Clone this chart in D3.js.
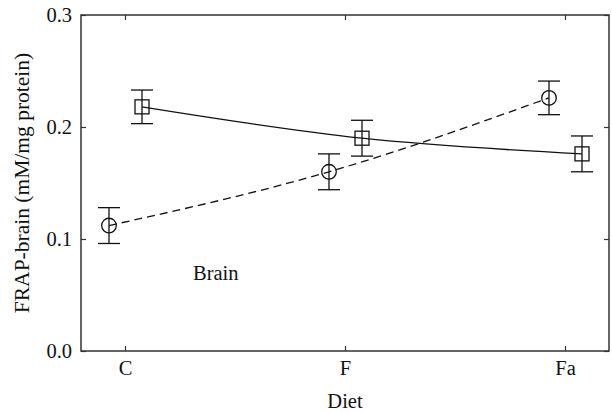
<!DOCTYPE html>
<html><head><meta charset="utf-8">
<script src="https://cdn.jsdelivr.net/npm/d3@7"></script>
<style>body{margin:0;background:#fff}svg{display:block}</style>
</head><body>
<svg id="chart" width="612" height="413"></svg>
<script>
const categories = ["C", "F", "Fa"];
const circleValues = [0.112, 0.160, 0.226];
const circleErrors = [0.016, 0.016, 0.015];
const squareValues = [0.218, 0.190, 0.176];
const squareErrors = [0.015, 0.016, 0.016];
const yTicks = [0.0, 0.1, 0.2, 0.3];
const yTickLabels = ["0.0", "0.1", "0.2", "0.3"];

const svg = d3.select("#chart");
const m = {left: 81, right: 609, top: 15, bottom: 351};
const font = "'Liberation Serif', 'Times New Roman', serif";
const fs = 20.5;

const x = d3.scalePoint().domain(categories).range([125, 565]);
const y = d3.scaleLinear().domain([0, 0.3]).range([m.bottom, m.top]);

// frame
svg.append("rect").attr("x", m.left).attr("y", m.top)
  .attr("width", m.right - m.left).attr("height", m.bottom - m.top)
  .attr("fill", "none").attr("stroke", "#333").attr("stroke-width", 1.5);

// axes with inward ticks
const axL = svg.append("g").attr("transform", `translate(${m.left},0)`)
  .call(d3.axisLeft(y).tickValues(yTicks).tickFormat((d, i) => yTickLabels[i]).tickSizeInner(-5).tickSizeOuter(0).tickPadding(9));
const axR = svg.append("g").attr("transform", `translate(${m.right},0)`)
  .call(d3.axisRight(y).tickValues(yTicks).tickFormat("").tickSizeInner(-5).tickSizeOuter(0));
const axB = svg.append("g").attr("transform", `translate(0,${m.bottom})`)
  .call(d3.axisBottom(x).tickSizeInner(-5).tickSizeOuter(0).tickPadding(9));
const axT = svg.append("g").attr("transform", `translate(0,${m.top})`)
  .call(d3.axisTop(x).tickFormat("").tickSizeInner(-5).tickSizeOuter(0));
[axL, axR, axB, axT].forEach(a => {
  a.select(".domain").remove();
  a.selectAll(".tick line").attr("stroke", "#333").attr("stroke-width", 1.2);
  a.selectAll("text").attr("font-family", font).attr("font-size", fs).attr("fill", "#111");
});

// titles
svg.append("text").attr("x", 345).attr("y", 408)
  .attr("text-anchor", "middle").attr("font-family", font).attr("font-size", fs).attr("fill", "#111").text("Diet");
svg.append("text").attr("transform", `translate(29,183) rotate(-90)`)
  .attr("text-anchor", "middle").attr("font-family", font).attr("font-size", 21.5).attr("fill", "#111")
  .text("FRAP-brain (mM/mg protein)");
svg.append("text").attr("x", 193).attr("y", 280)
  .attr("font-family", font).attr("font-size", fs).attr("fill", "#111").text("Brain");

function series(vals, errs, dx, dashed, shape) {
  const pts = categories.map((c, i) => ({x: x(c) + dx, v: vals[i], e: errs[i]}));
  const line = d3.line().x(d => d.x).y(d => y(d.v)).curve(d3.curveNatural);
  svg.append("path").attr("d", line(pts)).attr("fill", "none").attr("stroke", "#111")
    .attr("stroke-width", 1.3).attr("stroke-dasharray", dashed ? "8,5" : null);
  const g = svg.append("g").attr("stroke", "#111").attr("stroke-width", 1.3).attr("fill", "none");
  pts.forEach(p => {
    g.append("line").attr("x1", p.x).attr("x2", p.x).attr("y1", y(p.v - p.e)).attr("y2", y(p.v + p.e));
    g.append("line").attr("x1", p.x - 11).attr("x2", p.x + 11).attr("y1", y(p.v - p.e)).attr("y2", y(p.v - p.e));
    g.append("line").attr("x1", p.x - 11).attr("x2", p.x + 11).attr("y1", y(p.v + p.e)).attr("y2", y(p.v + p.e));
    if (shape === "circle") {
      g.append("circle").attr("cx", p.x).attr("cy", y(p.v)).attr("r", 7.3);
    } else {
      g.append("rect").attr("x", p.x - 7).attr("y", y(p.v) - 7).attr("width", 14).attr("height", 14);
    }
  });
}
series(circleValues, circleErrors, -16, true, "circle");
series(squareValues, squareErrors, 17, false, "square");
</script>
</body></html>
